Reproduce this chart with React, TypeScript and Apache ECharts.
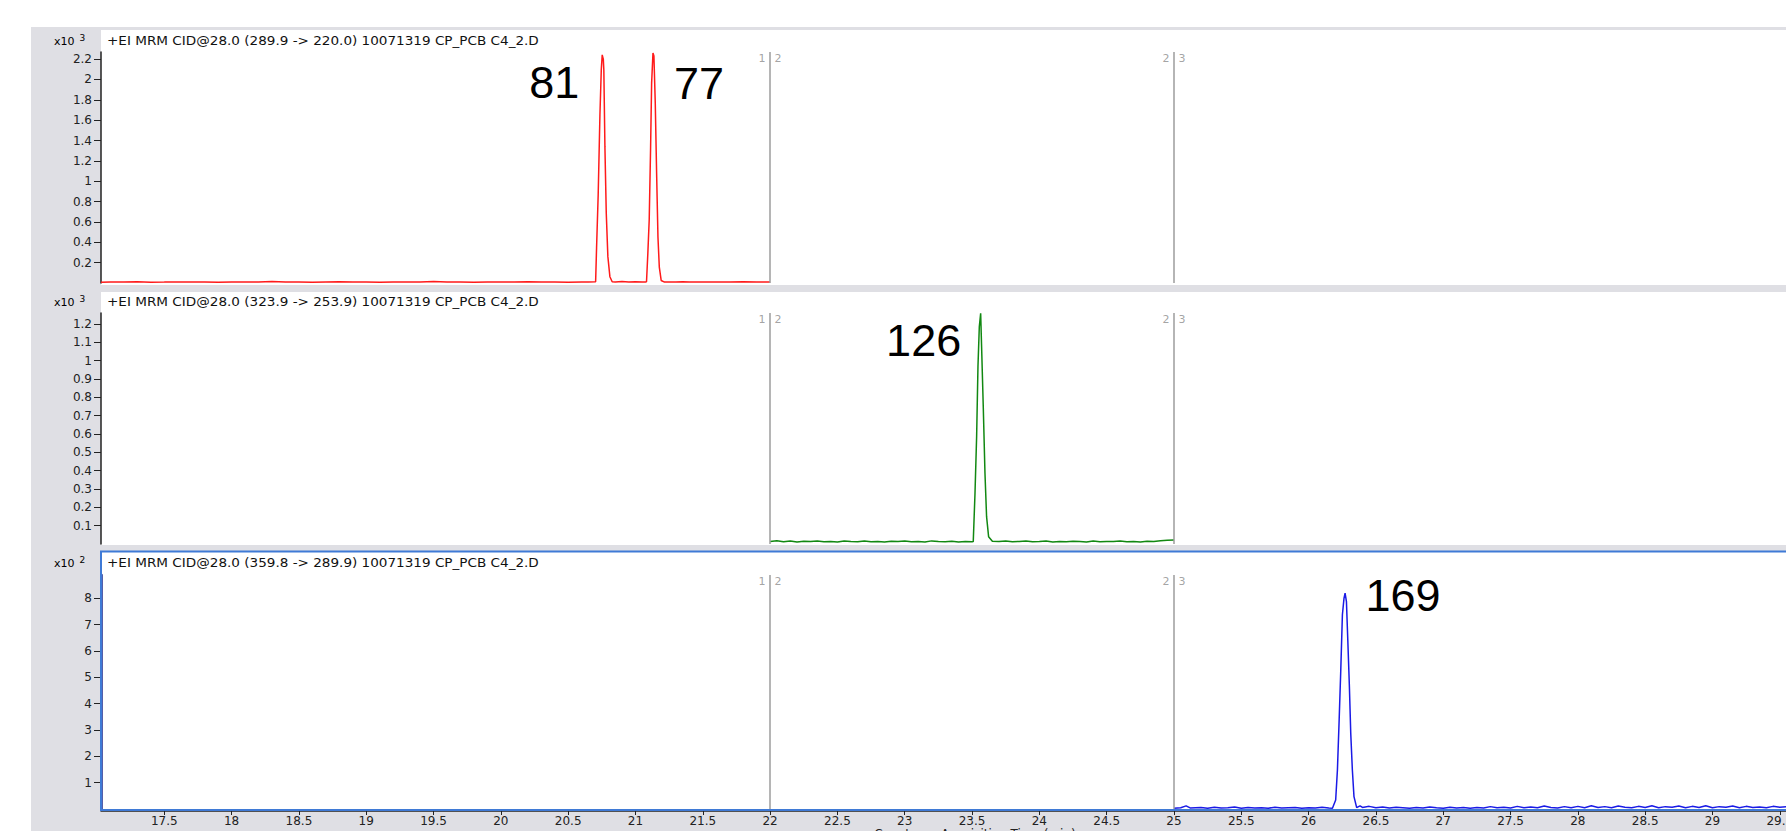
import React, { useEffect, useRef } from "react";
import * as echarts from "echarts";

// ---- acquisition time axis (min) ----
const X_MIN = 17.03;
const X_MAX = 29.65;
const xTickValues = [17.5, 18, 18.5, 19, 19.5, 20, 20.5, 21, 21.5, 22, 22.5, 23, 23.5, 24, 24.5, 25, 25.5, 26, 26.5, 27, 27.5, 28, 28.5, 29, 29.5];
const xAxisTitle = "Counts vs. Acquisition Time (min)";

// ---- time segment boundaries ----
const segmentBounds = [22, 25];
const segmentTags = [["1", "2"], ["2", "3"]];

// ---- MRM transition titles ----
const panelTitles = [
  "+EI MRM CID@28.0 (289.9 -> 220.0) 10071319 CP_PCB C4_2.D",
  "+EI MRM CID@28.0 (323.9 -> 253.9) 10071319 CP_PCB C4_2.D",
  "+EI MRM CID@28.0 (359.8 -> 289.9) 10071319 CP_PCB C4_2.D",
];

// ---- y scales (counts) ----
const yMaxes = [2270, 1260, 888];
const yTicks1 = [200, 400, 600, 800, 1000, 1200, 1400, 1600, 1800, 2000, 2200];
const yTicks2 = [100, 200, 300, 400, 500, 600, 700, 800, 900, 1000, 1100, 1200];
const yTicks3 = [100, 200, 300, 400, 500, 600, 700, 800];
const yDivisors = [1000, 1000, 100];
const yExponents = ["3", "3", "2"];

// ---- chromatogram traces: [time (min), counts] ----
const trace289: [number, number][] = [
  [17.03, 8], [17.1, 10], [17.2, 9], [17.3, 12], [17.4, 8], [17.5, 9], [17.6, 11], [17.7, 9], [17.8, 10], [17.9, 8],
  [18.0, 10], [18.1, 9], [18.2, 11], [18.3, 14], [18.4, 9], [18.5, 10], [18.6, 8], [18.7, 10], [18.8, 12], [18.9, 9],
  [19.0, 10], [19.1, 8], [19.2, 11], [19.3, 9], [19.4, 10], [19.5, 14], [19.6, 9], [19.7, 10], [19.8, 8], [19.9, 11],
  [20.0, 9], [20.1, 10], [20.2, 13], [20.3, 9], [20.4, 11], [20.5, 8], [20.6, 10], [20.65, 9],
  [20.704, 13], [20.711, 344], [20.723, 865], [20.736, 1652], [20.746, 2094], [20.753, 2242], [20.761, 2200],
  [20.765, 2094], [20.773, 1340], [20.783, 688], [20.795, 259], [20.81, 62], [20.827, 12],
  [20.85, 10], [20.9, 14], [20.95, 9], [21.0, 12], [21.05, 10], [21.075, 11],
  [21.082, 12], [21.092, 295], [21.102, 620], [21.112, 1308], [21.12, 1966], [21.13, 2260], [21.137, 2230],
  [21.147, 1770], [21.157, 1080], [21.167, 452], [21.177, 157], [21.191, 25], [21.216, 9],
  [21.25, 11], [21.3, 9], [21.35, 13], [21.4, 10], [21.5, 9], [21.6, 11], [21.7, 10], [21.8, 12], [21.9, 9], [22.0, 10],
];

const trace323: [number, number][] = [
  [22.0, 14], [22.05, 18], [22.1, 12], [22.15, 16], [22.2, 11], [22.25, 15], [22.3, 13], [22.35, 17], [22.4, 12], [22.45, 14],
  [22.5, 11], [22.55, 16], [22.6, 13], [22.65, 12], [22.7, 17], [22.75, 12], [22.8, 14], [22.85, 11], [22.9, 15], [22.95, 13],
  [23.0, 16], [23.05, 12], [23.1, 14], [23.15, 11], [23.2, 17], [23.25, 13], [23.3, 12], [23.35, 15], [23.4, 11], [23.45, 14],
  [23.5, 12],
  [23.509, 13], [23.522, 277], [23.534, 585], [23.544, 967], [23.554, 1185], [23.564, 1258], [23.571, 1076],
  [23.584, 731], [23.596, 387], [23.608, 149], [23.623, 40], [23.651, 15],
  [23.7, 13], [23.75, 16], [23.8, 12], [23.85, 14], [23.9, 17], [23.95, 12], [24.0, 13], [24.05, 16], [24.1, 11], [24.15, 14],
  [24.2, 12], [24.25, 15], [24.3, 13], [24.35, 11], [24.4, 16], [24.45, 12], [24.5, 14], [24.55, 13], [24.6, 17], [24.65, 12],
  [24.7, 14], [24.75, 11], [24.8, 15], [24.85, 13], [24.9, 18], [24.95, 20], [25.0, 22],
];

const trace359: [number, number][] = [
  [25.0, 3], [25.05, 5], [25.09, 12], [25.12, 4], [25.2, 6], [25.25, 3], [25.3, 7], [25.35, 4], [25.4, 5], [25.45, 8],
  [25.5, 3], [25.55, 6], [25.6, 4], [25.65, 5], [25.7, 3], [25.75, 7], [25.8, 4], [25.85, 5], [25.9, 6], [25.95, 3],
  [26.0, 5], [26.05, 4], [26.1, 7], [26.15, 4],
  [26.177, 3], [26.201, 34], [26.214, 148], [26.226, 325], [26.239, 528], [26.251, 737], [26.263, 800], [26.271, 819],
  [26.281, 787], [26.291, 642], [26.303, 464], [26.313, 287], [26.325, 148], [26.337, 47], [26.357, 5], [26.382, 12],
  [26.4, 6], [26.45, 10], [26.5, 5], [26.55, 8], [26.6, 4], [26.65, 7], [26.7, 5], [26.75, 3], [26.8, 6], [26.85, 4],
  [26.9, 8], [26.95, 5], [27.0, 3], [27.05, 7], [27.1, 4], [27.15, 6], [27.2, 3], [27.25, 6], [27.3, 4], [27.35, 9],
  [27.4, 5], [27.45, 7], [27.5, 4], [27.55, 10], [27.6, 5], [27.65, 8], [27.7, 5], [27.75, 11], [27.8, 6], [27.85, 4],
  [27.9, 9], [27.95, 5], [28.0, 10], [28.05, 5], [28.1, 12], [28.15, 6], [28.2, 9], [28.25, 5], [28.3, 11], [28.35, 7],
  [28.4, 5], [28.45, 10], [28.5, 6], [28.55, 12], [28.6, 5], [28.65, 9], [28.7, 7], [28.75, 11], [28.8, 5], [28.85, 10],
  [28.9, 6], [28.95, 12], [29.0, 5], [29.05, 9], [29.1, 7], [29.15, 11], [29.2, 5], [29.25, 10], [29.3, 6], [29.35, 8],
  [29.4, 5], [29.45, 10], [29.5, 7], [29.55, 9], [29.6, 5], [29.65, 8],
];

// ---- congener tags placed at the peak apexes ----
const peakTags1 = ["81", "77"];
const peakTags2 = ["126"];
const peakTags3 = ["169"];

// ---------------------------------------------------------------------------
const FONT = "DejaVu Sans";
const TAG_FONT = "Liberation Sans";
const GRID_LEFT = 101;
const GRID_WIDTH = 1699;

const panels = [
  { top: 52, height: 231, boxTop: 30, boxBottom: 285, titleY: 41, color: "#ff1a1a", trace: trace289, ticks: yTicks1, tags: peakTags1, tagOffsets: [[-48, 28], [46, 30]] },
  { top: 313, height: 231, boxTop: 292, boxBottom: 545, titleY: 302, color: "#118811", trace: trace323, ticks: yTicks2, tags: peakTags2, tagOffsets: [[-57, 27]] },
  { top: 575, height: 234, boxTop: 551, boxBottom: 811, titleY: 563, color: "#1a1ae6", trace: trace359, ticks: yTicks3, tags: peakTags3, tagOffsets: [[58, 2]] },
];

// local maxima of a trace, in time order (one per tag)
function apexes(trace: [number, number][], count: number): [number, number][] {
  const peaks: [number, number][] = [];
  for (let i = 1; i < trace.length - 1; i++) {
    if (trace[i][1] >= trace[i - 1][1] && trace[i][1] > trace[i + 1][1]) peaks.push(trace[i]);
  }
  return peaks.sort((a, b) => b[1] - a[1]).slice(0, count).sort((a, b) => a[0] - b[0]);
}

function buildOption(): echarts.EChartsOption {
  const grids: any[] = [];
  const xAxes: any[] = [];
  const yAxes: any[] = [];
  const series: any[] = [];
  const graphics: any[] = [
    { type: "rect", z: -100, shape: { x: 31, y: 27, width: 1800, height: 820 }, style: { fill: "#dfdfe4" }, silent: true },
  ];

  panels.forEach((p, i) => {
    grids.push({ left: GRID_LEFT, top: p.top, width: GRID_WIDTH, height: p.height, containLabel: false });

    const isBottom = i === panels.length - 1;
    xAxes.push({
      gridIndex: i,
      type: "value",
      min: X_MIN,
      max: X_MAX,
      show: isBottom,
      position: "bottom",
      offset: 2,
      splitLine: { show: false },
      axisLine: { show: true, onZero: false, lineStyle: { color: "#222", width: 1.5 } },
      axisTick: { show: true, inside: false, length: 4, customValues: xTickValues, lineStyle: { color: "#222" } },
      axisLabel: {
        show: true,
        customValues: xTickValues,
        margin: 4,
        color: "#222",
        fontFamily: FONT,
        fontSize: 12,
        formatter: (v: number) => String(v),
      },
    });

    const div = yDivisors[i];
    yAxes.push({
      gridIndex: i,
      type: "value",
      min: 0,
      max: yMaxes[i],
      splitLine: { show: false },
      axisLine: { show: true, onZero: false, lineStyle: { color: isBottom ? "#1c2a8c" : "#222", width: isBottom ? 2.5 : 1.5 } },
      axisTick: { show: true, inside: false, length: 7, customValues: p.ticks, lineStyle: { color: "#222" } },
      axisLabel: {
        customValues: p.ticks,
        margin: 9,
        color: "#222",
        fontFamily: FONT,
        fontSize: 12,
        formatter: (v: number) => String(Math.round((v / div) * 100) / 100),
      },
    });

    const peaks = apexes(p.trace, p.tags.length);
    series.push({
      type: "line",
      xAxisIndex: i,
      yAxisIndex: i,
      data: p.trace,
      showSymbol: false,
      silent: true,
      clip: true,
      lineStyle: { color: p.color, width: 1.5 },
      z: 3,
      markPoint: {
        silent: true,
        symbol: "circle",
        symbolSize: 0,
        itemStyle: { color: "transparent" },
        data: peaks.map((pk, k) => ({
          coord: pk,
          label: {
            show: true,
            position: "inside",
            offset: p.tagOffsets[k],
            formatter: p.tags[k],
            color: "#000",
            fontFamily: TAG_FONT,
            fontSize: 45,
          },
        })),
      },
    });

    // segment boundaries with their "n|m" tags
    series.push({
      type: "scatter",
      xAxisIndex: i,
      yAxisIndex: i,
      data: segmentBounds.map((b) => [b, yMaxes[i]]),
      symbolSize: 1,
      silent: true,
      itemStyle: { color: "transparent" },
      z: 2,
      label: {
        show: true,
        position: "inside",
        offset: [0, 6],
        formatter: (prm: any) => {
          const t = segmentTags[prm.dataIndex];
          return `{a|${t[0]}}{g| }{b|${t[1]}}`;
        },
        rich: {
          a: { color: "#8c8c8c", fontFamily: FONT, fontSize: 11 },
          g: { width: 9 },
          b: { color: "#8c8c8c", fontFamily: FONT, fontSize: 11 },
        },
      },
      markLine: {
        silent: true,
        symbol: ["none", "none"],
        label: { show: false },
        lineStyle: { color: "#9c9c9c", width: 1.5, type: "solid" },
        emphasis: { disabled: true },
        data: segmentBounds.map((b) => ({ xAxis: b })),
      },
    });

    // panel background, title and scale exponent
    graphics.push({
      type: "rect",
      z: -90,
      silent: true,
      shape: { x: GRID_LEFT, y: p.boxTop, width: 1800, height: p.boxBottom - p.boxTop },
      style: { fill: "#ffffff" },
    });
    graphics.push({
      type: "text",
      z: 50,
      silent: true,
      x: 107,
      y: p.titleY,
      scaleX: 1.13,
      style: { text: panelTitles[i], fill: "#111", font: `12px "${FONT}"`, verticalAlign: "middle", align: "left" },
    });
    graphics.push({
      type: "text",
      z: 50,
      silent: true,
      x: 54,
      y: p.titleY,
      style: {
        text: `{b|x10}{g| }{s|${yExponents[i]}}`,
        verticalAlign: "middle",
        align: "left",
        rich: {
          b: { fontFamily: FONT, fontSize: 11, color: "#222" },
          g: { width: 5 },
          s: { fontFamily: FONT, fontSize: 9, color: "#222", verticalAlign: "top", padding: [0, 0, 6, 0] },
        },
      },
    });
  });

  // selection frame around the bottom panel
  graphics.push({
    type: "rect",
    z: 40,
    silent: true,
    shape: { x: GRID_LEFT, y: 551.5, width: 1800, height: 258.5 },
    style: { fill: "none", stroke: "#3f7ad6", lineWidth: 2 },
  });
  // x axis title (runs off the bottom edge)
  graphics.push({
    type: "text",
    z: 50,
    silent: true,
    x: 975,
    y: 828,
    style: { text: xAxisTitle, fill: "#222", font: `12px "${FONT}"`, align: "center", verticalAlign: "top" },
  });

  return {
    animation: false,
    backgroundColor: "#ffffff",
    grid: grids,
    xAxis: xAxes,
    yAxis: yAxes,
    series,
    graphic: { elements: graphics },
  } as any;
}

export default function App() {
  const ref = useRef<HTMLDivElement>(null);
  useEffect(() => {
    if (!ref.current) return;
    const chart = echarts.init(ref.current, null, { renderer: "svg" });
    chart.setOption(buildOption());
    return () => chart.dispose();
  }, []);
  return (
    <div style={{ position: "absolute", left: 0, top: 0, width: 1786, height: 831, overflow: "hidden", background: "#fff" }}>
      <div ref={ref} style={{ width: 1800, height: 831 }} />
    </div>
  );
}
